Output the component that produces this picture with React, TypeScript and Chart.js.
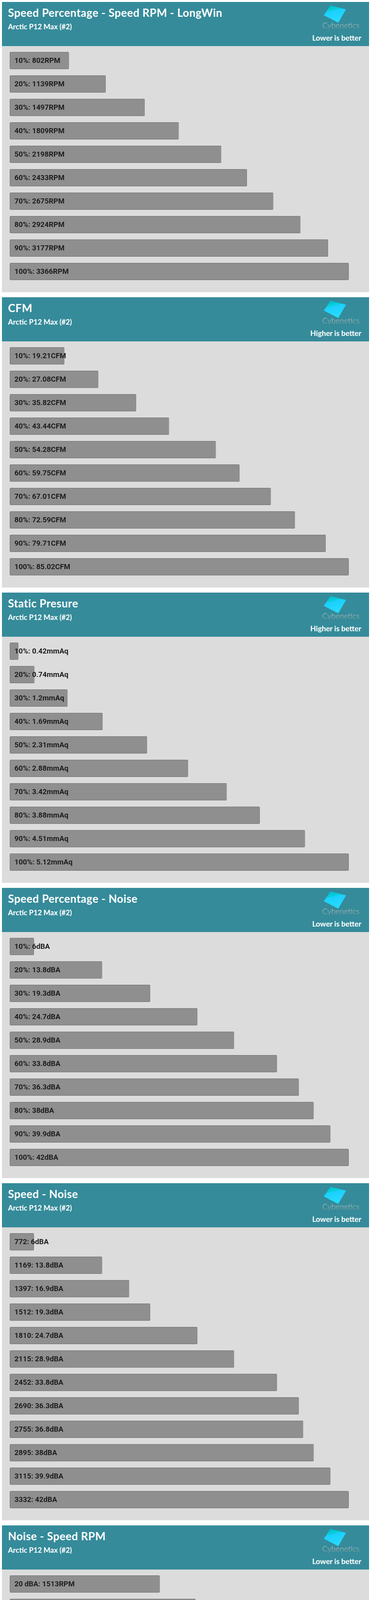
import React, { useEffect, useRef } from "react";
import { Chart, registerables } from "chart.js";

Chart.register(...registerables);

// ---------- data ----------
const SUBTITLE = "Arctic P12 Max (#2)";

const pctCategories = ["10%", "20%", "30%", "40%", "50%", "60%", "70%", "80%", "90%", "100%"];

const rpmValues = [802, 1139, 1497, 1809, 2198, 2433, 2675, 2924, 3177, 3366];
const cfmValues = [19.21, 27.08, 35.82, 43.44, 54.28, 59.75, 67.01, 72.59, 79.71, 85.02];
const pressureValues = [0.42, 0.74, 1.2, 1.69, 2.31, 2.88, 3.42, 3.88, 4.51, 5.12];
const noiseValues = [6, 13.8, 19.3, 24.7, 28.9, 33.8, 36.3, 38, 39.9, 42];

const speedCategories = ["772", "1169", "1397", "1512", "1810", "2115", "2452", "2690", "2755", "2895", "3115", "3332"];
const speedNoiseValues = [6, 13.8, 16.9, 19.3, 24.7, 28.9, 33.8, 36.3, 36.8, 38, 39.9, 42];

const noiseCategories = ["20 dBA", "25 dBA", "30 dBA", "35 dBA", "40 dBA"];
const noiseRpmValues = [1513, 1817, 2176, 2608, 3115];

const titles = [
  "Speed Percentage - Speed RPM - LongWin",
  "CFM",
  "Static Presure",
  "Speed Percentage - Noise",
  "Speed - Noise",
  "Noise - Speed RPM",
];
const notes = [
  "Lower is better",
  "Higher is better",
  "Higher is better",
  "Lower is better",
  "Lower is better",
  "Lower is better",
];
const units = ["RPM", "CFM", "mmAq", "dBA", "dBA", "RPM"];
const categorySets = [pctCategories, pctCategories, pctCategories, pctCategories, speedCategories, noiseCategories];
const valueSets = [rpmValues, cfmValues, pressureValues, noiseValues, speedNoiseValues, noiseRpmValues];

// ---------- styling ----------
const PANEL_W = 941;
const HEADER_H = 113;
const ROW_H = 60;
const TEAL = "#358b9a";
const BODY_BG = "#dcdcdc";
const AXIS_FLOOR_RATIO = 72.5 / 941.5;

type PanelProps = {
  idx: number;
  title: string;
  note: string;
  unit: string;
  categories: string[];
  values: number[];
};

const barLabelPlugin = {
  id: "barLabels",
  afterDatasetsDraw(chart: any, _args: any, opts: any) {
    const { ctx, chartArea } = chart;
    const meta = chart.getDatasetMeta(0);
    const cats = chart.data.labels as string[];
    const data = chart.data.datasets[0].data as number[];
    ctx.save();
    ctx.font = "bold 18.7px Roboto";
    ctx.fillStyle = "#1d1d1d";
    ctx.textBaseline = "middle";
    ctx.textAlign = "left";
    meta.data.forEach((el: any, i: number) => {
      ctx.fillText(`${cats[i]}: ${data[i]}${opts.unit}`, chartArea.left + 12, el.y + 1);
    });
    ctx.restore();
  },
};

function Header({ idx, title, note }: { idx: number; title: string; note: string }) {
  const logoId = `logoGrad${idx}`;
  const cybId = `cybGrad${idx}`;
  return (
    <svg width={PANEL_W} height={HEADER_H} style={{ display: "block" }}>
      <defs>
        <linearGradient id={logoId} x1="0" y1="0" x2="0.3" y2="1">
          <stop offset="0" stopColor="#00b2cc" />
          <stop offset="0.38" stopColor="#08d2de" />
          <stop offset="0.40" stopColor="#1ccfff" />
          <stop offset="1" stopColor="#26dbff" />
        </linearGradient>
        <linearGradient id={cybId} x1="0" y1="0" x2="0" y2="1">
          <stop offset="0" stopColor="#ececec" />
          <stop offset="1" stopColor="#8e8e8e" />
        </linearGradient>
      </defs>
      <rect x={0} y={0} width={PANEL_W} height={HEADER_H} fill={TEAL} />
      <text x={15.5} y={38} fill="#ffffff" fontFamily="Lato" fontWeight={700} fontSize={28} letterSpacing={0.55}>
        {title}
      </text>
      <text x={15.5} y={70} fill="#ffffff" fontFamily="Lato" fontWeight={700} fontSize={18.5}>
        {SUBTITLE}
      </text>
      <polygon points="842,9 882,19 862,53 825,34" fill={`url(#${logoId})`} />
      <text x={821} y={67} fill={`url(#${cybId})`} fontFamily="Lato" fontWeight={300} fontSize={20}>
        Cybenetics
      </text>
      <text x={921} y={99} textAnchor="end" fill="#ffffff" fontFamily="Lato" fontWeight={700} fontSize={19}>
        {note}
      </text>
    </svg>
  );
}

function Panel({ idx, title, note, unit, categories, values }: PanelProps) {
  const canvasRef = useRef<HTMLCanvasElement | null>(null);
  const bodyH = 30 + ROW_H * categories.length;

  useEffect(() => {
    if (!canvasRef.current) return;
    const max = Math.max(...values);
    const min = max * AXIS_FLOOR_RATIO;
    const chart = new Chart(canvasRef.current, {
      type: "bar",
      data: {
        labels: categories,
        datasets: [
          {
            data: values,
            backgroundColor: "#8f8f8f",
            borderColor: "#6e6e6e",
            borderWidth: 1,
            borderSkipped: false,
            borderRadius: 2,
            barPercentage: 44 / 60,
            categoryPercentage: 1,
            minBarLength: 22,
            base: min,
          } as any,
        ],
      },
      options: {
        indexAxis: "y",
        animation: false,
        responsive: true,
        maintainAspectRatio: false,
        events: [],
        layout: { padding: { left: 20, right: 52, top: 7, bottom: 23 } },
        scales: {
          x: { type: "linear", display: false, min, max },
          y: { type: "category", display: false },
        },
        plugins: {
          legend: { display: false },
          tooltip: { enabled: false },
          barLabels: { unit },
        } as any,
      },
      plugins: [barLabelPlugin],
    });
    return () => chart.destroy();
  }, []);

  return (
    <div style={{ width: PANEL_W, marginBottom: 13 }}>
      <Header idx={idx} title={title} note={note} />
      <div style={{ position: "relative", width: PANEL_W, height: bodyH, background: BODY_BG }}>
        <canvas ref={canvasRef} />
      </div>
    </div>
  );
}

export default function App() {
  useEffect(() => {
    document.body.style.margin = "0";
    document.body.style.background = "#ffffff";
  }, []);
  return (
    <div style={{ padding: "5px 5px 0 5px", width: PANEL_W }}>
      {titles.map((t, i) => (
        <Panel
          key={i}
          idx={i}
          title={t}
          note={notes[i]}
          unit={units[i]}
          categories={categorySets[i]}
          values={valueSets[i]}
        />
      ))}
    </div>
  );
}
